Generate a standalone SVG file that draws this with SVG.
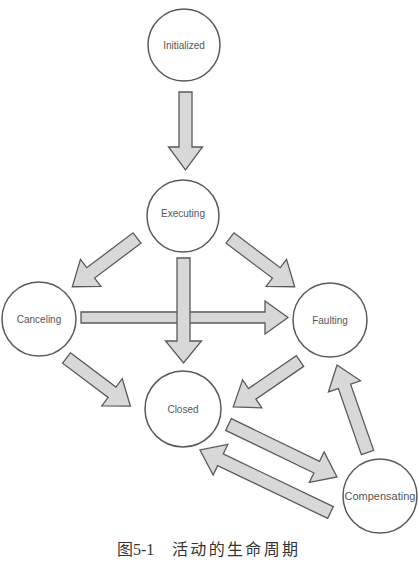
<svg xmlns="http://www.w3.org/2000/svg" width="419" height="570" viewBox="0 0 419 570">
<style>
.node circle{fill:#ffffff;stroke:#5a5a5a;stroke-width:1.5}
.node text{font-family:"Liberation Sans",Arial,sans-serif;font-size:10px;fill:#555;text-anchor:middle}
.arr polygon{fill:#d8d8d8;stroke:#5a5a5a;stroke-width:1.3;stroke-linejoin:miter}
.cap{font-family:"Liberation Serif","Noto Sans CJK SC",serif;font-size:16px;fill:#333}
</style>
<rect width="419" height="570" fill="#ffffff"/>
<g id="connectors" class="arr">
<polygon transform="translate(185.5,92) rotate(90)" points="0,-6.5 55,-6.5 55,-17 78,0 55,17 55,6.5 0,6.5"/>
<polygon transform="translate(137,238) rotate(143)" points="0,-6.5 58,-6.5 58,-17 81,0 58,17 58,6.5 0,6.5"/>
<polygon transform="translate(230,238) rotate(37)" points="0,-6.5 58,-6.5 58,-17 81,0 58,17 58,6.5 0,6.5"/>
<polygon transform="translate(81,317.5) rotate(0)" points="0,-5.5 184,-5.5 184,-16.5 207,0 184,16.5 184,5.5 0,5.5"/>
<polygon transform="translate(183.5,258) rotate(90)" points="0,-6.5 83,-6.5 83,-18 105,0 83,18 83,6.5 0,6.5"/>
<polygon transform="translate(66.5,358) rotate(37)" points="0,-6.5 57,-6.5 57,-17 80,0 57,17 57,6.5 0,6.5"/>
<polygon transform="translate(300,361) rotate(145.5)" points="0,-6.5 58,-6.5 58,-17 81,0 58,17 58,6.5 0,6.5"/>
<polygon transform="translate(228.5,424.5) rotate(25.8)" points="0,-6.5 98,-6.5 98,-17 120.5,0 98,17 98,6.5 0,6.5"/>
<polygon transform="translate(330.5,512.5) rotate(205.6)" points="0,-6.5 122,-6.5 122,-17 144.7,0 122,17 122,6.5 0,6.5"/>
<polygon transform="translate(367.5,452.5) rotate(-109.2)" points="0,-6.5 70,-6.5 70,-17 92.7,0 70,17 70,6.5 0,6.5"/>
</g>
<g id="initialized" class="node"><circle cx="184" cy="45" r="36"/><text x="184" y="48.5">Initialized</text></g>
<g id="executing" class="node"><circle cx="183" cy="216" r="36"/><text x="183" y="217">Executing</text></g>
<g id="canceling" class="node"><circle cx="39" cy="319" r="37"/><text x="39" y="322.5">Canceling</text></g>
<g id="faulting" class="node"><circle cx="330" cy="320" r="37"/><text x="330" y="323.5">Faulting</text></g>
<g id="closed" class="node"><circle cx="183" cy="409" r="38"/><text x="183" y="412.5">Closed</text></g>
<g id="compensating" class="node"><circle cx="380" cy="496" r="37"/><text x="380" y="499.5" style="font-size:11px">Compensating</text></g>
<text class="cap" x="117" y="555"><tspan>图5-1</tspan><tspan x="172" textLength="126" lengthAdjust="spacing">活动的生命周期</tspan></text>
</svg>
